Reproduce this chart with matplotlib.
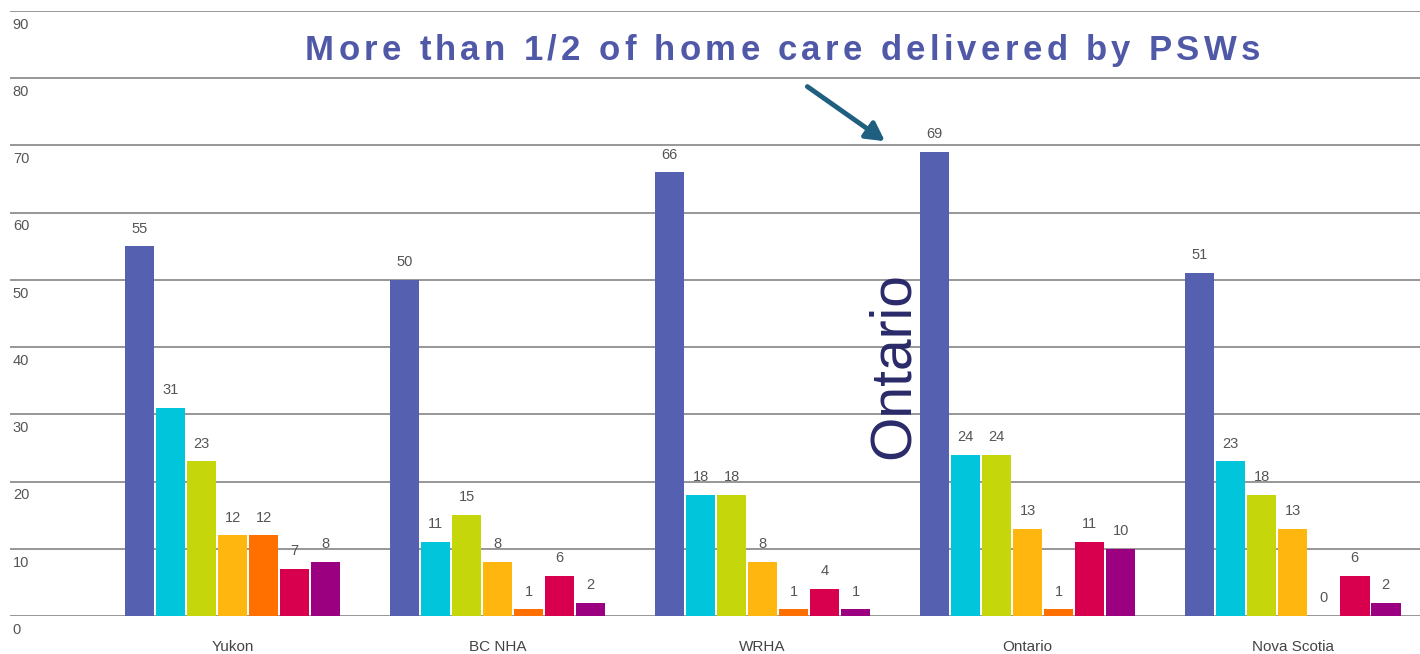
import numpy as np
import matplotlib.pyplot as plt
from matplotlib.transforms import blended_transform_factory

regions = ['Yukon', 'BC NHA', 'WRHA', 'Ontario', 'Nova Scotia']
series_values = [
    [55, 50, 66, 69, 51],
    [31, 11, 18, 24, 23],
    [23, 15, 18, 24, 18],
    [12, 8, 8, 13, 13],
    [12, 1, 1, 1, 0],
    [7, 6, 4, 11, 6],
    [8, 2, 1, 10, 2],
]
colors = ['#5560B0', '#00C5DB', '#C5D60A', '#FFB70F', '#FF7000', '#D8004E', '#9B0081']
y_ticks = [0, 10, 20, 30, 40, 50, 60, 70, 80, 90]
headline = 'More than 1/2 of home care delivered by PSWs'

plt.rcParams['font.family'] = ['Liberation Sans', 'DejaVu Sans']

fig = plt.figure(figsize=(14.2, 6.54), dpi=100)
ax = fig.add_axes([0.007, 0.0581, 0.993, 0.925])

x = np.arange(len(regions))
width = 0.111
step = 0.117
n = len(series_values)
for k, vals in enumerate(series_values):
    pos = x + (k - (n - 1) / 2) * step
    ax.bar(pos, vals, width=width, color=colors[k], zorder=3)
    for p, v in zip(pos, vals):
        ax.text(p, v + 1.6, str(v), ha='center', va='bottom',
                fontsize=10.5, color='#555555', zorder=4)

ax.set_xlim(-0.84, 4.48)
ax.set_ylim(0, 90)

# gridlines + labels sitting just under them
for t in y_ticks:
    ax.axhline(t, color='#8f8f8f', lw=1.3, zorder=1)
trans = blended_transform_factory(ax.transAxes, ax.transData)
for t in y_ticks:
    ax.text(0.002, t - 1.0, str(t), transform=trans, ha='left', va='top',
            fontsize=10.5, color='#555555')

ax.set_yticks([])
ax.set_xticks(x)
ax.set_xticklabels(regions, fontsize=11, color='#444444')
ax.tick_params(axis='x', length=0, pad=17)
for s in ax.spines.values():
    s.set_visible(False)

# headline, letter-spaced to span ~305..1260 px
renderer = fig.canvas.get_renderer()
fig_w = fig.get_figwidth() * fig.dpi
kw = dict(fontsize=25, fontweight='bold', color='#5058A8')

def text_w(s):
    t = fig.text(0, 0, s, **kw)
    w = t.get_window_extent(renderer).width
    t.remove()
    return w

space_w = text_w('x x') - text_w('xx')
widths = [space_w if c == ' ' else text_w(c) for c in headline]
x0, x1 = 305, 1260
gap = (x1 - x0 - sum(widths)) / (len(headline) - 1)
cx = x0
for c, w in zip(headline, widths):
    if c != ' ':
        fig.text(cx / fig_w, 0.923, c, ha='left', va='center', **kw)
    cx += w + gap

# arrow
ax.annotate('', xy=(2.47, 70.4), xytext=(2.16, 79.0),
            arrowprops=dict(arrowstyle='-|>,head_width=0.6,head_length=1.1',
                            color='#1F5F7F', lw=3.5))

# big rotated label
ax.text(2.495, 37.3, 'Ontario', rotation=90, ha='center', va='center',
        fontsize=41, color='#2A2A6A', zorder=5)

fig.savefig('out.png', dpi=100, facecolor='white')
